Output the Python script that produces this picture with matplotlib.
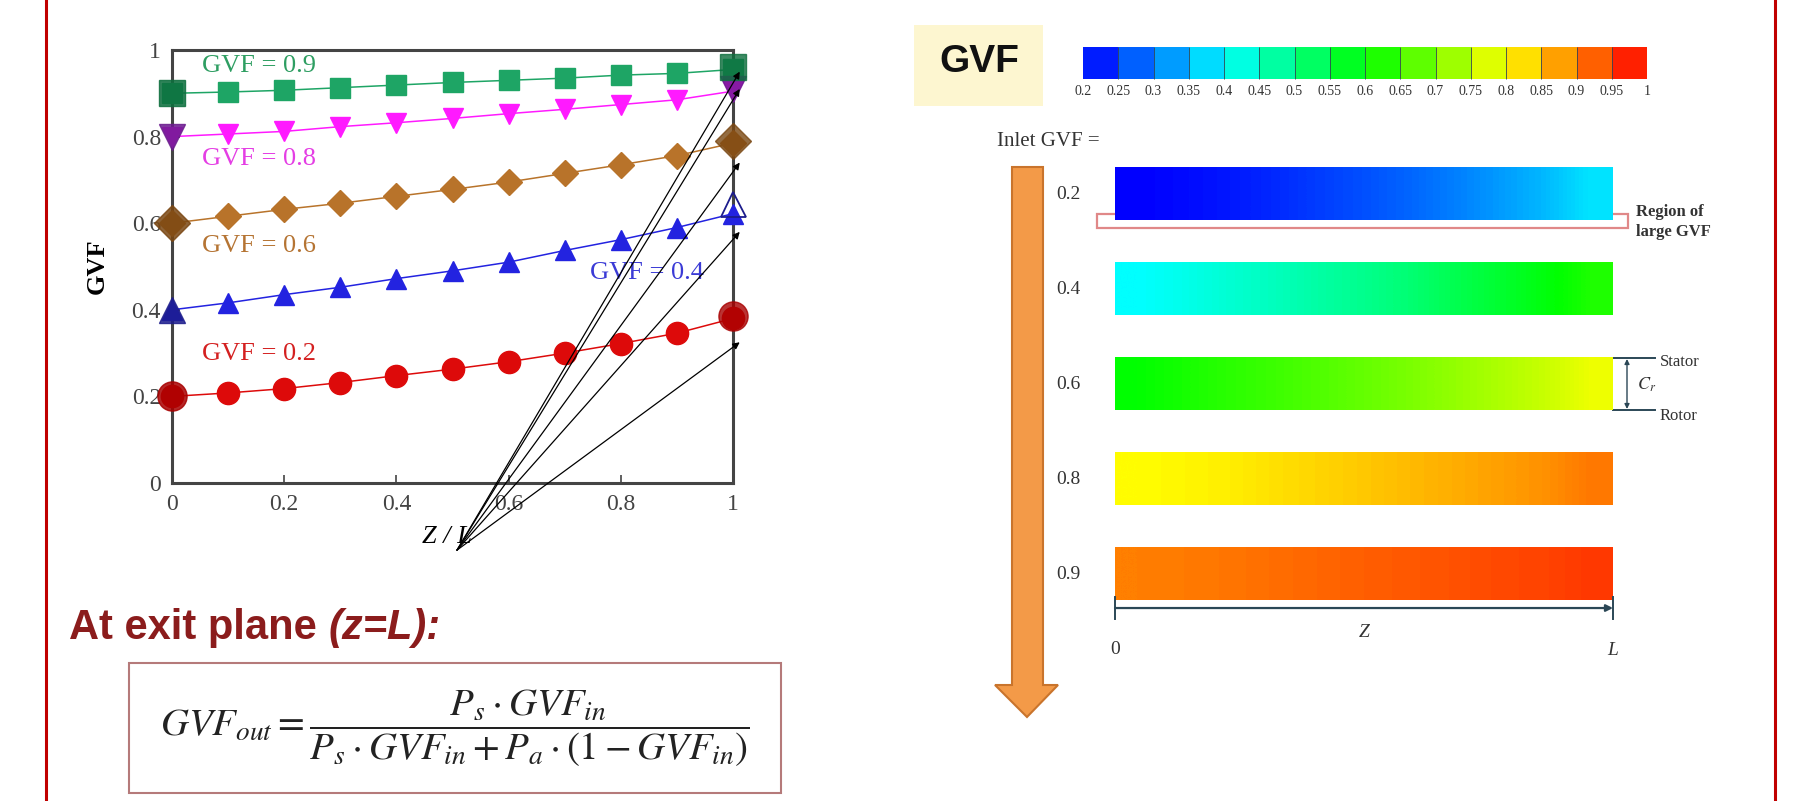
import numpy as np
import matplotlib
matplotlib.use('Agg')
import matplotlib.pyplot as plt
from matplotlib.colors import LinearSegmentedColormap, Normalize
from matplotlib.cm import ScalarMappable
from matplotlib.patches import Rectangle, Polygon

plt.rcParams['font.family'] = ['Liberation Serif', 'DejaVu Serif']
plt.rcParams['mathtext.fontset'] = 'stix'

# GVF along the channel (z/L) for each inlet GVF
z = [0.0, 0.1, 0.2, 0.3, 0.4, 0.5, 0.6, 0.7, 0.8, 0.9, 1.0]
gvf_02 = [0.200, 0.208, 0.218, 0.232, 0.248, 0.263, 0.280, 0.300, 0.322, 0.346, 0.380]
gvf_04 = [0.400, 0.416, 0.435, 0.452, 0.472, 0.490, 0.510, 0.537, 0.562, 0.590, 0.622]
gvf_06 = [0.600, 0.616, 0.632, 0.646, 0.662, 0.678, 0.695, 0.715, 0.735, 0.756, 0.785]
gvf_08 = [0.800, 0.806, 0.812, 0.823, 0.832, 0.842, 0.853, 0.863, 0.874, 0.885, 0.905]
gvf_09 = [0.900, 0.903, 0.907, 0.913, 0.919, 0.925, 0.930, 0.935, 0.942, 0.946, 0.955]

inlet_gvf = [0.2, 0.4, 0.6, 0.8, 0.9]
exit_gvf = [0.385, 0.645, 0.790, 0.910, 0.960]   # exit-plane formula values
arrow_targets = [0.95, 0.91, 0.74, 0.58, 0.325]

series_labels = ['GVF = 0.2', 'GVF = 0.4', 'GVF = 0.6', 'GVF = 0.8', 'GVF = 0.9']
row_labels = ['0.2', '0.4', '0.6', '0.8', '0.9']
cbar_levels = np.arange(0.2, 1.0001, 0.05)
cbar_labels = ['0.2', '0.25', '0.3', '0.35', '0.4', '0.45', '0.5', '0.55', '0.6',
               '0.65', '0.7', '0.75', '0.8', '0.85', '0.9', '0.95', '1']

profiles = [gvf_02, gvf_04, gvf_06, gvf_08, gvf_09]
markers = ['o', '^', 'D', 'v', 's']
msizes = [16, 14, 13, 14, 14]
colors = ['#dd0a0a', '#2323e0', '#b8732a', '#ff1aff', '#1ea565']
dark = ['#a80000', '#1c1c8c', '#7a4712', '#6b1b8e', '#0d6e3d']
text_colors = ['#d42020', '#3b3bd6', '#b57433', '#e43ee4', '#2e9e62']
text_pos = [(0.053, 0.297), (0.745, 0.486), (0.053, 0.547), (0.053, 0.748), (0.053, 0.962)]

W, H = 1807, 801


def fr(x0, y0, x1, y1):
    return [x0 / W, 1 - y1 / H, (x1 - x0) / W, (y1 - y0) / H]


fig = plt.figure(figsize=(W / 100, H / 100), dpi=100)
fig.patch.set_facecolor('white')

# overlay in pixel units for slide decorations
ov = fig.add_axes([0, 0, 1, 1], zorder=0)
ov.set_xlim(0, W)
ov.set_ylim(H, 0)
ov.axis('off')

# ---- left: GVF vs z/L ----
ax = fig.add_axes(fr(172, 50, 733, 483), zorder=2)
ax.set_facecolor('none')
for i, prof in enumerate(profiles):
    ax.plot(z, prof, color=colors[i], lw=1.1, marker=markers[i], ms=msizes[i],
            mec=colors[i], mfc=colors[i], clip_on=False, zorder=3)
    ax.plot(z[0], inlet_gvf[i], marker=markers[i], ms=msizes[i] + 5, color=dark[i],
            alpha=0.85, clip_on=False, zorder=4, ls='none')
    if markers[i] == '^':
        ax.plot(z[-1], exit_gvf[i], marker='^', ms=msizes[i] + 4, mfc='none',
                mec=dark[i], mew=1.3, clip_on=False, zorder=4, ls='none')
    else:
        ax.plot(z[-1], exit_gvf[i], marker=markers[i], ms=msizes[i] + 5, color=dark[i],
                alpha=0.8, clip_on=False, zorder=4, ls='none')
    tx, ty = text_pos[i]
    ax.text(tx, ty, series_labels[i], color=text_colors[i], fontsize=19,
            transform=ax.transAxes, va='center', zorder=5)

for yt in arrow_targets:
    ax.annotate('', xy=(1.012, yt), xycoords='data', xytext=(0.508, -0.155),
                textcoords='axes fraction',
                arrowprops=dict(arrowstyle='-|>', color='black', lw=0.9,
                                mutation_scale=10, shrinkA=0, shrinkB=0),
                annotation_clip=False, zorder=6)

ax.set_xlim(0, 1)
ax.set_ylim(0, 1)
ticks = [0, 0.2, 0.4, 0.6, 0.8, 1]
tick_lbl = ['0', '0.2', '0.4', '0.6', '0.8', '1']
ax.set_xticks(ticks)
ax.set_xticklabels(tick_lbl)
ax.set_yticks(ticks)
ax.set_yticklabels(tick_lbl)
ax.tick_params(direction='in', length=6, width=1.2, labelsize=17, pad=8,
               colors='#444444')
for sp in ax.spines.values():
    sp.set_linewidth(2.2)
    sp.set_color('#444444')
ax.set_ylabel('GVF', fontsize=19, fontweight='bold')
ax.yaxis.set_label_coords(-0.112, 0.5)
ax.set_xlabel('Z / L', fontsize=19, style='italic')
ax.xaxis.set_label_coords(0.49, -0.10)

# ---- right: colour legend ----
cmap = LinearSegmentedColormap.from_list(
    'gvf', ['#0000ff', '#00ffff', '#00ff00', '#ffff00', '#ff0000'])
norm = Normalize(0.2, 1.0)

ov.add_patch(Rectangle((914, 25), 129, 81, facecolor='#fdf6d0', edgecolor='none'))
ov.text(979, 62, 'GVF', fontsize=28, fontweight='bold', family='Liberation Sans',
        ha='center', va='center', color='#111111')

cax = fig.add_axes(fr(1083, 47, 1647, 79), zorder=2)
cb = fig.colorbar(ScalarMappable(norm=norm, cmap=cmap), cax=cax, orientation='horizontal',
                  boundaries=cbar_levels, ticks=cbar_levels, drawedges=True)
cb.set_ticklabels(cbar_labels)
cb.outline.set_visible(False)
cb.dividers.set_color('#334455')
cb.dividers.set_linewidth(0.6)
cb.ax.tick_params(length=0, labelsize=10, pad=4, colors='#333333')

# ---- right: GVF contours along the gap ----
axb = fig.add_axes(fr(1115, 160, 1613, 620), zorder=2)
axb.set_facecolor('none')
half = 0.274
for i, prof in enumerate(profiles):
    axb.imshow(np.array(prof)[None, :], extent=(0, 1, i - half, i + half), cmap=cmap,
               norm=norm, aspect='auto', interpolation='bilinear')
    axb.text(-0.094, i, row_labels[i], fontsize=14, ha='center', va='center',
             color='#333333')
axb.set_xlim(0, 1)
axb.set_ylim(4.484, -0.358)
axb.axis('off')

# z dimension line under the contours
zy = 4.358
axb.annotate('', xy=(1, zy), xytext=(0, zy),
             arrowprops=dict(arrowstyle='-|>', color='#2b4756', lw=1.6,
                             mutation_scale=10, shrinkA=0, shrinkB=0),
             annotation_clip=False)
axb.plot([0, 0], [zy - 0.12, zy + 0.12], color='#2b4756', lw=1.4, clip_on=False)
axb.plot([1, 1], [zy - 0.12, zy + 0.12], color='#2b4756', lw=1.4, clip_on=False)
axb.text(0, 4.79, '0', fontsize=14, ha='center', va='center', color='#333333')
axb.text(0.5, 4.62, 'Z', fontsize=14, style='italic', ha='center', va='center',
         color='#333333')
axb.text(1, 4.81, 'L', fontsize=14, style='italic', ha='center', va='center',
         color='#333333')

ov.text(997, 142, 'Inlet GVF =', fontsize=15, ha='left', va='center', color='#333333')

# orange flow arrow
ov.add_patch(Polygon([(1012, 167), (1043, 167), (1043, 685), (1058, 685), (1027, 717),
                      (995, 685), (1012, 685)], closed=True, facecolor='#f39a48',
                     edgecolor='#c9742c', lw=1.5))

# region of large GVF marker
ov.add_patch(Rectangle((1097, 214), 531, 14, facecolor='none', edgecolor='#e08888',
                       lw=1.6, zorder=3))
ov.text(1636, 222, 'Region of\nlarge GVF', fontsize=12, fontweight='bold', ha='left',
        va='center', linespacing=1.3, color='#333333')

# clearance between stator and rotor
ov.plot([1613, 1655], [358, 358], color='#2b4756', lw=1.4)
ov.plot([1613, 1655], [410, 410], color='#2b4756', lw=1.4)
ov.annotate('', xy=(1627, 359), xytext=(1627, 409),
            arrowprops=dict(arrowstyle='<|-|>', color='#2b4756', lw=1.0,
                            mutation_scale=7, shrinkA=0, shrinkB=0))
ov.text(1637, 385, r'$C_r$', fontsize=13, ha='left', va='center', color='#333333')
ov.text(1660, 362, 'Stator', fontsize=12, ha='left', va='center', color='#333333')
ov.text(1660, 416, 'Rotor', fontsize=12, ha='left', va='center', color='#333333')

# ---- exit-plane relation ----
t1 = ov.text(69, 628, 'At exit plane ', fontsize=30, fontweight='bold',
             family='Liberation Sans', ha='left', va='center', color='#8b1c1c')
fig.canvas.draw()
x_end = t1.get_window_extent().x1
ov.text(x_end, H - 628, '(z=L):', fontsize=30, fontweight='bold', style='italic',
        family='Liberation Sans', ha='left', va='center', color='#8b1c1c',
        transform=None)

ov.add_patch(Rectangle((129, 663), 652, 130, facecolor='white', edgecolor='#b57a7a',
                       lw=1.5))
ov.text(455, 728,
        r'$GVF_{out}=\dfrac{P_s\cdot GVF_{in}}{P_s\cdot GVF_{in}+P_a\cdot(1-GVF_{in})}$',
        fontsize=28, ha='center', va='center', color='#222222')

# slide border
ov.plot([46, 46], [0, H], color='#c00000', lw=2.2)
ov.plot([1775, 1775], [0, H], color='#c00000', lw=2.2)

fig.savefig('out.png', dpi=100)
